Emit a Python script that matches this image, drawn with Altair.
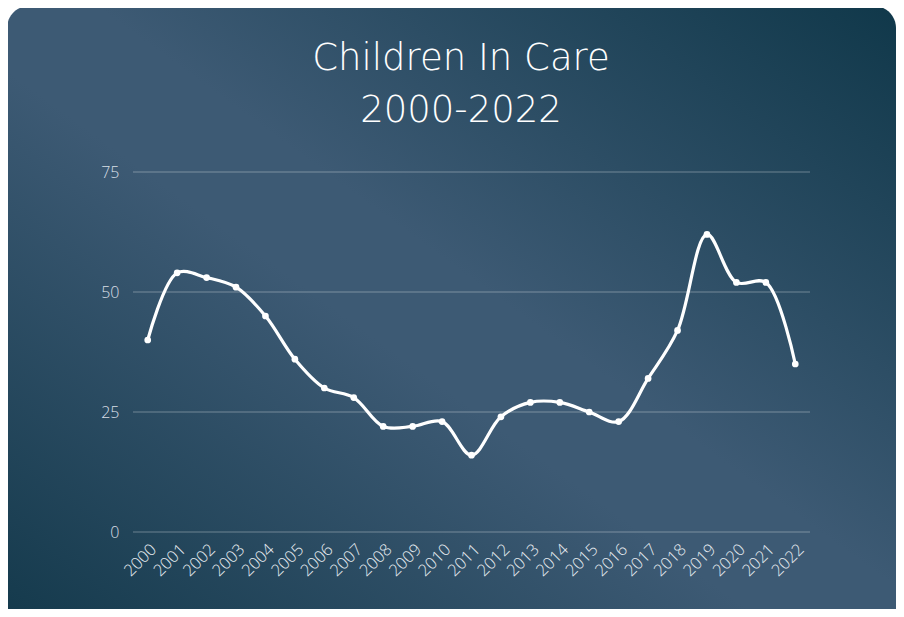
import altair as alt
import pandas as pd

years = [str(y) for y in range(2000, 2023)]
children = [40, 54, 53, 51, 45, 36, 30, 28, 22, 22, 23, 16, 24, 27, 27, 25, 23, 32, 42, 62, 52, 52, 35]
title_lines = ["Children In Care", "2000-2022"]
y_ticks = [0, 25, 50, 75]

df = pd.DataFrame({"Year": years, "Children": children})
bg_df = pd.DataFrame({"k": [0]})
grid_df = pd.DataFrame({"Children": y_ticks})
title_df = pd.DataFrame({"t": ["\n".join(title_lines)]})

FONT = "Open Sans"
TFONT = "DejaVu Sans"

bg = alt.Chart(bg_df).mark_rect(
    color=alt.Gradient(
        gradient="linear",
        x1=0, y1=1, x2=1, y2=0,
        stops=[
            alt.GradientStop(color="#12384a", offset=0),
            alt.GradientStop(color="#3d5a74", offset=0.45),
            alt.GradientStop(color="#3d5a74", offset=0.55),
            alt.GradientStop(color="#10384a", offset=1),
        ],
    ),
    cornerRadius=22,
).encode(
    x=alt.value(-126), x2=alt.value(763),
    y=alt.value(-166), y2=alt.value(480),
)

y_scale = alt.Scale(domain=[0, 75], nice=False)

y_enc = alt.Y(
    "Children:Q",
    title=None,
    scale=y_scale,
    axis=alt.Axis(
        values=y_ticks, labelColor="#d8dfe6", labelFont=FONT, labelFontWeight=300,
        labelFontSize=16, labelPadding=14, domain=False, ticks=False, grid=False,
        zindex=1,
    ),
)

grid = alt.Chart(grid_df).mark_rule(color="#ffffff", opacity=0.33, strokeWidth=1).encode(
    y=y_enc,
    x=alt.value(0), x2=alt.value(677),
)

x_enc = alt.X(
    "Year:O",
    sort=years,
    title=None,
    scale=alt.Scale(type="point", padding=0.5),
    axis=alt.Axis(
        labelAngle=315, labelColor="#e6ebf0", labelFont=FONT, labelFontWeight=300,
        labelFontSize=16.5, labelPadding=9, domain=False, ticks=False, grid=False,
        zindex=1,
    ),
)

line = alt.Chart(df).mark_line(
    color="white", strokeWidth=3.2, interpolate="catmull-rom"
).encode(x=x_enc, y=y_enc)

pts = alt.Chart(df).mark_circle(color="white", size=45, opacity=1).encode(x=x_enc, y=y_enc)

title = alt.Chart(title_df).mark_text(
    font=TFONT, fontWeight=200, fontSize=37, color="white", align="center",
    baseline="alphabetic", lineBreak="\n", lineHeight=52,
).encode(
    text="t:N",
    x=alt.value(328),
    y=alt.value(-102),
)

chart = alt.layer(bg, grid, line, pts, title).properties(
    width=677,
    height=360,
    autosize=alt.AutoSizeParams(type="none"),
    padding={"left": 125, "top": 164, "right": 86, "bottom": 77},
).configure_view(stroke=None).configure(background="white")

chart.save("out.html", embed_options={"renderer": "svg", "actions": False})
